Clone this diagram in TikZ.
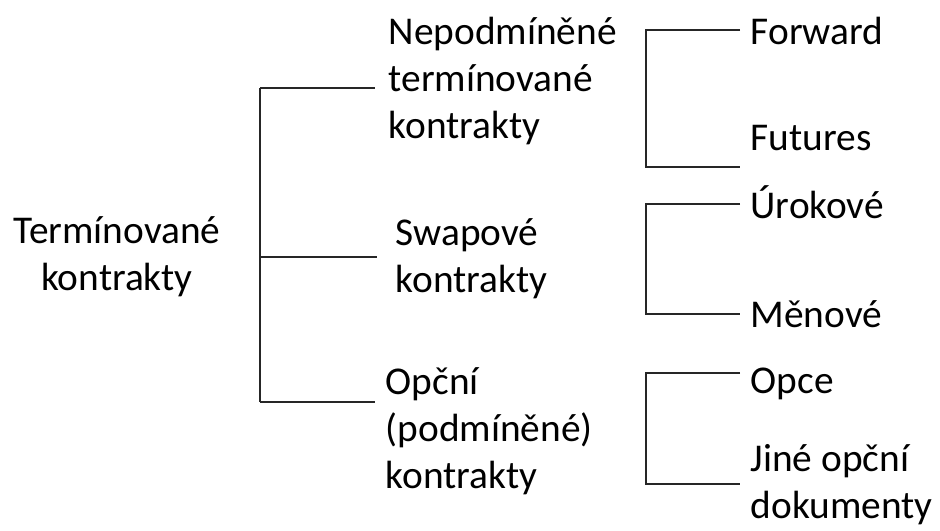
\documentclass[tikz,border=0pt]{standalone}
\usepackage{fontspec}
\setmainfont{Carlito}
\tikzset{
  txt/.style={inner sep=0pt, anchor=base west, align=left,
    font=\fontsize{11.2}{13.3}\selectfont},
  ast/.style={draw=black!85, line width=0.45pt},
}
\begin{document}
\begin{tikzpicture}
  \useasboundingbox (0,0) rectangle (9.4,5.3);

  % Oberbegriff (base = letzte Zeile)
  \node[txt, anchor=base, align=center] (term) at (1.17,2.40) {Termínované\\kontrakty};

  % Hauptgruppen
  \node[txt] (nepod) at (3.88,3.92) {Nepodmíněné\\termínované\\kontrakty};
  \node[txt] (swap) at (3.95,2.38) {Swapové\\kontrakty};
  \node[txt] (opcni) at (3.85,0.42) {Opční\\(podmíněné)\\kontrakty};

  % Untergruppen
  \node[txt] (fwd) at (7.50,4.86) {Forward};
  \node[txt] (fut) at (7.50,3.80) {Futures};
  \node[txt] (urok) at (7.50,3.12) {Úrokové};
  \node[txt] (men) at (7.50,2.03) {Měnové};
  \node[txt] (opce) at (7.50,1.37) {Opce};
  \node[txt] (jine) at (7.50,0.12) {Jiné opční\\dokumenty};

  % Klammer links
  \coordinate (s1) at (2.60,4.42);
  \coordinate (s2) at (2.60,2.73);
  \coordinate (s3) at (2.60,1.28);
  \draw[ast] (s1) -- (s3);
  \draw[ast] (s1) -- ([xshift=-1.3mm]nepod.west |- s1);
  \draw[ast] (s2) -- ([xshift=-1.8mm]swap.west |- s2);
  \draw[ast] (s3) -- ([xshift=-1mm]opcni.west |- s3);

  % Klammern rechts
  \coordinate (k1o) at (6.46,5.00);
  \coordinate (k1u) at (6.46,3.63);
  \coordinate (k2o) at (6.46,3.26);
  \coordinate (k2u) at (6.46,2.16);
  \coordinate (k3o) at (6.46,1.57);
  \coordinate (k3u) at (6.46,0.46);
  \draw[ast] ([xshift=-1mm]fwd.west |- k1o) -- (k1o) -- (k1u) -- ([xshift=-1mm]fut.west |- k1u);
  \draw[ast] ([xshift=-1mm]urok.west |- k2o) -- (k2o) -- (k2u) -- ([xshift=-1mm]men.west |- k2u);
  \draw[ast] ([xshift=-1mm]opce.west |- k3o) -- (k3o) -- (k3u) -- ([xshift=-1mm]jine.west |- k3u);
\end{tikzpicture}
\end{document}
